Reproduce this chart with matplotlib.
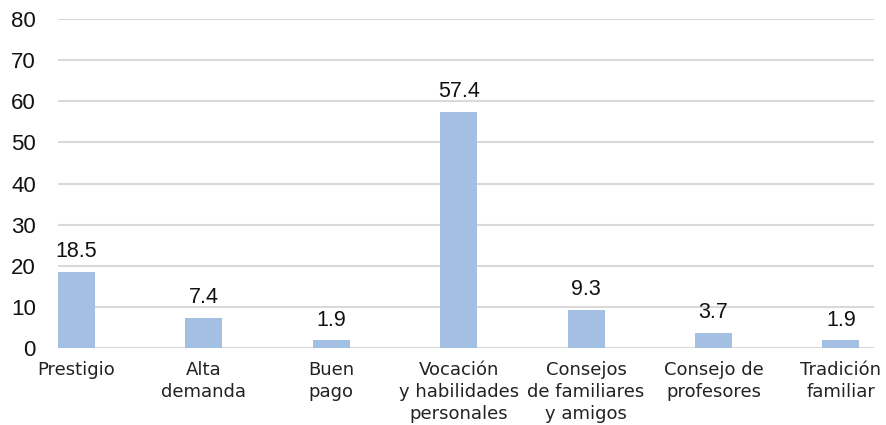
import matplotlib
matplotlib.use("Agg")
from matplotlib import pyplot as plt
import numpy as np

# Datos
categorias = ["Prestigio", "Alta\ndemanda", "Buen\npago",
              "Vocación\ny habilidades\npersonales",
              "Consejos\nde familiares\ny amigos",
              "Consejo de\nprofesores", "Tradición\nfamiliar"]
porcentajes = [18.5, 7.4, 1.9, 57.4, 9.3, 3.7, 1.9]
etiquetas = ["18.5", "7.4", "1.9", "57.4", "9.3", "3.7", "1.9"]
ticks_y = [0, 10, 20, 30, 40, 50, 60, 70, 80]

fig = plt.figure(figsize=(8.86, 4.25), dpi=100)
ax = fig.add_axes([0.0655, 0.181, 0.921, 0.774])

x = np.arange(len(categorias))
ax.bar(x, porcentajes, width=0.29, color="#a3c0e2", zorder=3)

for xi, v, t in zip(x, porcentajes, etiquetas):
    ax.annotate(t, (xi, v), xytext=(0, 7), textcoords="offset points",
                ha="center", va="bottom", fontsize=15.5, color="#111111",
                family="Liberation Sans")

ax.set_ylim(0, 80)
ax.set_xlim(-0.145, 6.26)
ax.set_yticks(ticks_y)
ax.set_yticklabels([str(t) for t in ticks_y], family="Liberation Sans",
                   fontsize=16, color="#111111")
ax.set_xticks(x)
ax.set_xticklabels(categorias, fontsize=13, color="#222222",
                   family="DejaVu Sans", linespacing=1.3)
ax.tick_params(axis="y", length=0, pad=16)
ax.tick_params(axis="x", length=0, pad=9)
ax.grid(axis="y", color="#d9d9d9", linewidth=1.5, zorder=0)
for s in ax.spines.values():
    s.set_visible(False)

plt.savefig("out.png", dpi=100)
